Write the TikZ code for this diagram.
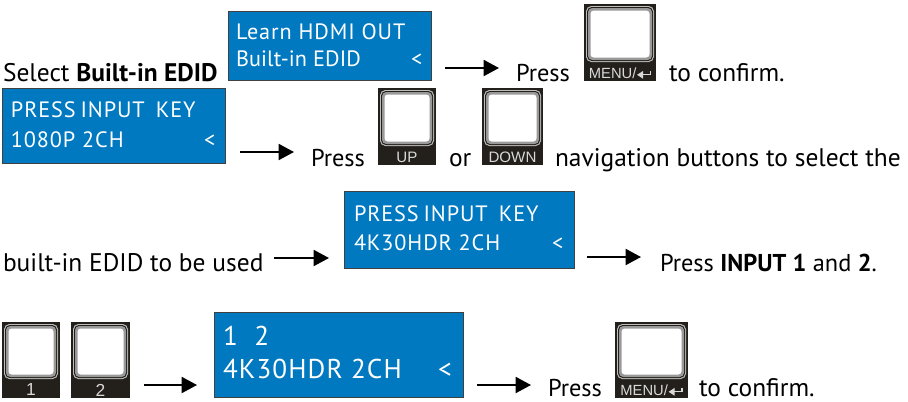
\documentclass[tikz,border=0pt]{standalone}
\usepackage{fontspec}
\setmainfont{PT Sans}
\newfontfamily\lcdfont[LetterSpace=4]{PT Sans}
\newfontfamily\lcdtight[LetterSpace=0.5]{PT Sans}
\newfontfamily\keyfont{Liberation Sans}
\usetikzlibrary{arrows.meta}
\definecolor{lcdblue}{HTML}{0079C1}
\definecolor{keydark}{HTML}{231F1A}
\newcommand{\px}{0.75pt}
\newcommand{\menuarrow}{\tikz[baseline=0pt,x=1bp,y=1bp]{\draw[line width=1bp,-{Triangle[length=4.5bp,width=5.5bp]}] (10,5.5)--(10,2.5)--(0,2.5);}}
\tikzset{
  x=0.75pt,y=-0.75pt,
  body/.style={anchor=base west,inner sep=0pt,outer sep=0pt,font=\fontsize{19bp}{20bp}\selectfont,text=black},
  shortbody/.style={body,font=\fontsize{18.2bp}{20bp}\selectfont},
  lcdbox/.style={draw=black!75,line width=0.7pt,fill=lcdblue,rectangle,inner sep=0pt,outer sep=0pt,anchor=north west},
  lcdtext/.style={anchor=base west,inner sep=0pt,outer sep=0pt,text=white,font=\lcdfont\fontsize{16.6bp}{20bp}\selectfont},
  lcdnarrow/.style={lcdtext,font=\lcdtight\fontsize{16.6bp}{20bp}\selectfont},
  lcdbig/.style={lcdtext,font=\lcdfont\fontsize{20.3bp}{24bp}\selectfont},
  keybody/.style={fill=keydark,draw=none,rectangle,inner sep=0pt,outer sep=0pt,anchor=north west},
  keylabel/.style={anchor=center,inner sep=0pt,outer sep=0pt,text=white!85!black,font=\keyfont\fontsize{11.3bp}{12bp}\selectfont},
  flow/.style={-{Triangle[length=11.5pt,width=12pt]},line width=1.4pt,black}
}
% #1 name, #2 left, #3 top, #4 width, #5 height, #6 label
\newcommand{\keycap}[6]{%
  \node[keybody,minimum width=#4*\px,minimum height=#5*\px] (#1) at (#2,#3) {};
  \fill[white!75!black,rounded corners=4pt] (#2+2,#3+2) rectangle (#2+#4-2,#3+#5-19);
  \fill[keydark,rounded corners=3.6pt] (#2+3,#3+3) rectangle (#2+#4-3,#3+#5-20);
  \fill[white!60!black,rounded corners=3.2pt] (#2+4,#3+4) rectangle (#2+#4-4,#3+#5-21);
  \fill[white,rounded corners=2.4pt] (#2+6.5,#3+6.5) rectangle (#2+#4-6.5,#3+#5-23.5);
  \node[keylabel] (#1l) at (#2+#4/2,#3+#5-8) {#6};
}
\begin{document}
\begin{tikzpicture}
\useasboundingbox (0,0) rectangle (908,401);
% LCD boxes
\node[lcdbox,minimum width=203*\px,minimum height=69*\px] (lcdA) at (228,11) {};
\node[lcdtext] (lcdAa) at (236,39) {Learn HDMI OUT};
\node[lcdnarrow] (lcdAb) at (236,66) {Built-in EDID};
\node[lcdtext] (lcdAc) at (411,66) {<};
\node[lcdbox,minimum width=223*\px,minimum height=75*\px] (lcdB) at (2,88) {};
\node[lcdtext] (lcdBa) at (11,117) {PRESS\hspace{0.22em}INPUT\hspace{0.5em}KEY};
\node[lcdtext] (lcdBb) at (11,147) {1080P 2CH};
\node[lcdtext] (lcdBc) at (204,147) {<};
\node[lcdbox,minimum width=230*\px,minimum height=77*\px] (lcdC) at (344,191) {};
\node[lcdtext] (lcdCa) at (354,221) {PRESS\hspace{0.22em}INPUT\hspace{0.5em}KEY};
\node[lcdtext] (lcdCb) at (354,250) {4K30HDR 2CH};
\node[lcdtext] (lcdCc) at (552,250) {<};
\node[lcdbox,minimum width=249*\px,minimum height=85*\px] (lcdD) at (214,312) {};
\node[lcdbig] (lcdDa) at (223,345) {1\ \ 2};
\node[lcdbig] (lcdDb) at (223,378) {4K30HDR 2CH};
\node[lcdbig] (lcdDc) at (438,378) {<};
% Keys
\keycap{menuA}{584}{4}{72}{77}{\fontsize{11bp}{12bp}\selectfont MENU/\menuarrow}
\keycap{keyUp}{378}{88}{58}{77}{UP}
\keycap{keyDown}{482}{88}{61}{77}{DOWN}
\keycap{keyOne}{2}{322}{58}{76}{\fontsize{13bp}{14bp}\selectfont 1}
\keycap{keyTwo}{71}{322}{59}{76}{\fontsize{13bp}{14bp}\selectfont 2}
\keycap{menuB}{615}{322}{73}{76}{\fontsize{11bp}{12bp}\selectfont MENU/\menuarrow}
% Body text
\node[body] (t1) at (3,81) {Select \textbf{Built-in EDID}};
\node[shortbody] (t2) at (516,81) {Press};
\node[body] (t3) at (669,81) {to confirm.};
\node[shortbody] (t4) at (311,166) {Press};
\node[body] (t5) at (449,166) {or};
\node[body] (t6) at (555,166) {navigation buttons to select the};
\node[body] (t7) at (3,271) {built-in EDID to be used};
\node[shortbody] (t8) at (660,271) {Press \textbf{INPUT 1} and \textbf{2}.};
\node[shortbody] (t9) at (548,396) {Press};
\node[body] (t10) at (699,396) {to confirm.};
% Arrow ends
\coordinate (aS) at (445,68); \coordinate (aE) at (499,68);
\coordinate (bS) at (240,152); \coordinate (bE) at (294,152);
\coordinate (cS) at (274,258); \coordinate (cE) at (329,258);
\coordinate (dS) at (587,257); \coordinate (dE) at (641,257);
\coordinate (eS) at (144,385); \coordinate (eE) at (197,385);
\coordinate (fS) at (477,385); \coordinate (fE) at (531,385);
\foreach \p/\q in {aS/aE,bS/bE,cS/cE,dS/dE,eS/eE,fS/fE} \draw[flow] (\p) -- (\q);
\end{tikzpicture}
\end{document}
